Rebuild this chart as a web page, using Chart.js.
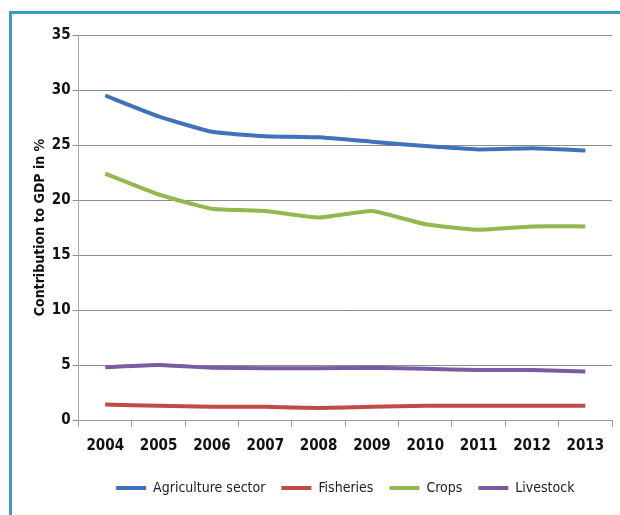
<!DOCTYPE html>
<html>
<head>
<meta charset="utf-8">
<script src="https://cdn.jsdelivr.net/npm/chart.js@4"></script>
<style>
  html, body { margin: 0; padding: 0; background: #fff; overflow: hidden; }
  #frame { position: absolute; left: 9px; top: 11px; width: 700px; height: 600px; border-top: 3px solid #3a9dc0; border-left: 3px solid #3a9dc0; }
  #wrap { position: absolute; left: 0; top: 0; width: 620px; height: 515px; }
</style>
</head>
<body>
<div id="frame"></div>
<div id="wrap"><canvas id="chart"></canvas></div>
<script>
const years = ["2004", "2005", "2006", "2007", "2008", "2009", "2010", "2011", "2012", "2013"];
const agriculture = [29.5, 27.6, 26.2, 25.8, 25.7, 25.3, 24.9, 24.6, 24.7, 24.5];
const fisheries = [1.4, 1.3, 1.2, 1.2, 1.1, 1.2, 1.3, 1.3, 1.3, 1.3];
const crops = [22.4, 20.5, 19.2, 19.0, 18.4, 19.0, 17.8, 17.3, 17.6, 17.6];
const livestock = [4.8, 5.0, 4.75, 4.7, 4.7, 4.75, 4.65, 4.55, 4.55, 4.4];
const yTicks = [0, 5, 10, 15, 20, 25, 30, 35];

const fontFam = "'Liberation Sans Narrow', 'DejaVu Sans Condensed', sans-serif";

const makeSet = (label, data, color) => ({
  label: label,
  data: data,
  borderColor: color,
  backgroundColor: color,
  borderWidth: 4,
  pointRadius: 0,
  tension: 0.15,
});

let canvas = document.getElementById("chart");
new Chart(canvas, {
  type: "line",
  data: {
    labels: years,
    datasets: [
      makeSet("Agriculture sector", agriculture, "#3f72b8"),
      makeSet("Fisheries", fisheries, "#be4b48"),
      makeSet("Crops", crops, "#93b84f"),
      makeSet("Livestock", livestock, "#7b5ca2"),
    ],
  },
  options: {
    responsive: true,
    maintainAspectRatio: false,
    animation: false,
    layout: { padding: { left: 32, top: 35, right: 8, bottom: 10 } },
    plugins: {
      tooltip: { enabled: false },
      legend: {
        position: "bottom",
        fullSize: false,
        labels: {
          usePointStyle: true,
          pointStyle: "line",
          pointStyleWidth: 30,
          padding: 16,
          color: "#222",
          font: { family: fontFam, size: 14 },
        },
      },
    },
    scales: {
      x: {
        offset: true,
        grid: { offset: true, drawOnChartArea: false, drawTicks: true, tickLength: 7, color: "#999" },
        border: { color: "#999", width: 1 },
        ticks: { color: "#111", padding: 10, font: { family: fontFam, size: 15, weight: "bold" } },
      },
      y: {
        min: 0,
        max: 35,
        afterBuildTicks: (axis) => { axis.ticks = yTicks.map((v) => ({ value: v })); },
        grid: { color: "#8c8c8c", lineWidth: 1, tickLength: 6 },
        border: { color: "#aaa", width: 1 },
        ticks: { color: "#111", padding: 2, font: { family: fontFam, size: 15, weight: "bold" } },
        title: {
          display: true,
          text: "Contribution to GDP in %",
          color: "#111",
          padding: { top: 0, bottom: 1 },
          font: { family: fontFam, size: 14, weight: "bold" },
        },
      },
    },
  },
});
</script>
</body>
</html>
